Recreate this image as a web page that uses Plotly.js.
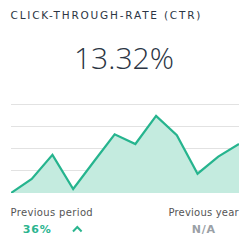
<!DOCTYPE html>
<html><head><meta charset="utf-8">
<script src="https://cdn.plot.ly/plotly-3.0.1.min.js"></script>
<style>html,body{margin:0;padding:0;background:#fff}#chart{width:250px;height:250px}</style>
</head><body><div id="chart"></div>
<script>
const periods = [1,2,3,4,5,6,7,8,9,10,11,12];
const ctrValues = [0.0,0.63,1.72,0.18,1.42,2.65,2.21,3.48,2.61,0.87,1.64,2.21];
const titleText = "CLICK-THROUGH-RATE (CTR)";
const kpiText = "13.32%";
const prevPeriodLabel = "Previous period";
const prevPeriodValue = "36%";
const prevYearLabel = "Previous year";
const prevYearValue = "N/A";

const W = 250, H = 250;
const M = {l: 11, r: 11, t: 103, b: 57};
const pw = W - M.l - M.r, ph = H - M.t - M.b;
const px = x => (x - M.l) / pw;
const py = y => (H - M.b - y) / ph;

const trace = {
  x: periods, y: ctrValues, type: 'scatter', mode: 'lines',
  line: {color: '#26b48e', width: 2.2, shape: 'linear'},
  fill: 'tozeroy', fillcolor: '#c4ebdf', hoverinfo: 'skip'
};
const dark = '#2b3544';
const layout = {
  width: W, height: H, margin: M, showlegend: false,
  paper_bgcolor: '#fff', plot_bgcolor: '#fff',
  xaxis: {range: [1, 12], showgrid: false, zeroline: false, showticklabels: false, showline: false, ticks: ''},
  yaxis: {range: [0, 4.06], dtick: 1, showgrid: true, gridcolor: '#e2e2e2', gridwidth: 1, zeroline: false, showticklabels: false, showline: false, ticks: ''},
  annotations: [
    {text: titleText, xref: 'paper', yref: 'paper', x: px(10), y: py(15.5), xanchor: 'left', yanchor: 'middle', showarrow: false,
     font: {family: 'DejaVu Sans', size: 10.5, color: dark}},
    {text: kpiText, xref: 'paper', yref: 'paper', x: px(124), y: py(57), xanchor: 'center', yanchor: 'middle', showarrow: false,
     font: {family: 'Open Sans', size: 30, color: dark, weight: 300}},
    {text: prevPeriodLabel, xref: 'paper', yref: 'paper', x: px(10), y: py(212), xanchor: 'left', yanchor: 'middle', showarrow: false,
     font: {family: 'DejaVu Sans', size: 10, color: '#555'}},
    {text: prevYearLabel, xref: 'paper', yref: 'paper', x: px(240), y: py(212), xanchor: 'right', yanchor: 'middle', showarrow: false,
     font: {family: 'DejaVu Sans', size: 10, color: '#555'}},
    {text: prevPeriodValue, xref: 'paper', yref: 'paper', x: px(37), y: py(229.5), xanchor: 'center', yanchor: 'middle', showarrow: false,
     font: {family: 'DejaVu Sans', size: 11, color: '#2bb58f', weight: 700}},
    {text: prevYearValue, xref: 'paper', yref: 'paper', x: px(204), y: py(229.5), xanchor: 'center', yanchor: 'middle', showarrow: false,
     font: {family: 'DejaVu Sans', size: 11, color: '#9aa0a6', weight: 700}}
  ],
  shapes: [
    {type: 'path', xref: 'paper', yref: 'paper',
     path: `M ${px(73)} ${py(231.5)} L ${px(77.3)} ${py(227)} L ${px(81.6)} ${py(231.5)}`,
     line: {color: '#2bb58f', width: 2}}
  ]
};
Plotly.newPlot('chart', [trace], layout, {staticPlot: true, displayModeBar: false}).then(() => {
  const texts = document.querySelectorAll('.annotation-text');
  const spacing = [1.8, 0, 0.35, 0.2, 0.8, 0.8];
  const anchor = ['start', null, 'start', 'end', null, null];
  texts.forEach((t, i) => {
    if (!spacing[i]) return;
    const bb = t.getBBox();
    t.style.letterSpacing = spacing[i] + 'px';
    if (anchor[i] === 'start') { t.setAttribute('text-anchor', 'start'); t.setAttribute('x', bb.x - 1.5); }
    else if (anchor[i] === 'end') { t.setAttribute('text-anchor', 'end'); t.setAttribute('x', bb.x + bb.width + spacing[i] + 1); }
    t.querySelectorAll('tspan').forEach(s => s.removeAttribute('x'));
  });
});
</script></body></html>
